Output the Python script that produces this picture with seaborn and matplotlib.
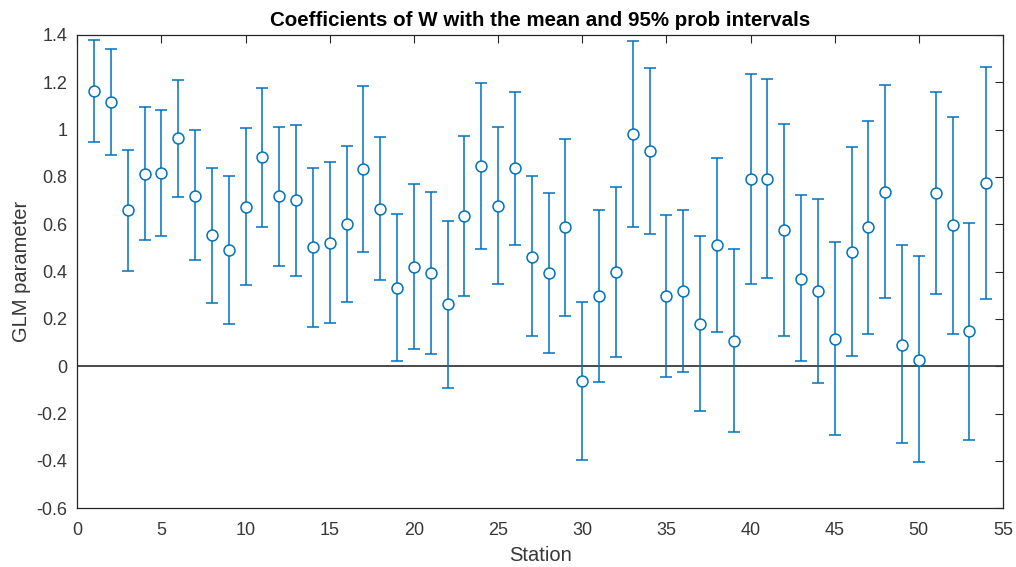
import numpy as np
import pandas as pd
import matplotlib
matplotlib.use("Agg")
import matplotlib.pyplot as plt
import seaborn as sns

# Posterior summaries of the W coefficient per station
station = list(range(1, 55))
mean = [1.165, 1.117, 0.659, 0.813, 0.817, 0.965, 0.721, 0.554, 0.492, 0.673,
        0.885, 0.720, 0.703, 0.503, 0.521, 0.601, 0.834, 0.666, 0.332, 0.421,
        0.394, 0.263, 0.637, 0.845, 0.679, 0.837, 0.463, 0.393, 0.587, -0.061,
        0.297, 0.399, 0.983, 0.911, 0.299, 0.320, 0.180, 0.511, 0.108, 0.793,
        0.790, 0.576, 0.370, 0.318, 0.115, 0.483, 0.589, 0.738, 0.092, 0.028,
        0.732, 0.597, 0.149, 0.775]
lower = [0.949, 0.892, 0.401, 0.535, 0.552, 0.715, 0.448, 0.266, 0.179, 0.342,
         0.587, 0.423, 0.383, 0.168, 0.185, 0.272, 0.483, 0.366, 0.021, 0.073,
         0.051, -0.090, 0.296, 0.494, 0.346, 0.511, 0.127, 0.056, 0.214, -0.394,
         -0.066, 0.038, 0.587, 0.559, -0.044, -0.025, -0.190, 0.144, -0.277, 0.348,
         0.372, 0.127, 0.021, -0.072, -0.289, 0.045, 0.138, 0.290, -0.324, -0.406,
         0.307, 0.138, -0.313, 0.285]
upper = [1.380, 1.341, 0.914, 1.094, 1.085, 1.211, 0.997, 0.839, 0.804, 1.007,
         1.177, 1.013, 1.020, 0.839, 0.862, 0.932, 1.183, 0.968, 0.645, 0.769,
         0.738, 0.615, 0.972, 1.196, 1.013, 1.161, 0.803, 0.732, 0.962, 0.272,
         0.662, 0.756, 1.376, 1.259, 0.639, 0.662, 0.552, 0.880, 0.494, 1.237,
         1.213, 1.024, 0.723, 0.708, 0.524, 0.927, 1.038, 1.189, 0.511, 0.465,
         1.161, 1.055, 0.607, 1.265]

df = pd.DataFrame({"Station": station, "mean": mean, "lower": lower, "upper": upper})

sns.set_theme(style="white")
plt.rcParams["font.family"] = ["Liberation Sans", "DejaVu Sans"]

blue = "#0072BD"
axcol = "#262626"
txtcol = "#383838"

fig = plt.figure(figsize=(10.16, 5.67), dpi=100)
ax = fig.add_axes([0.0761, 0.1035, 0.9111, 0.8348])

# reference line at zero
ax.axhline(0, color="#3a3a3a", lw=1.3, zorder=1)

yerr = np.vstack([df["mean"] - df["lower"], df["upper"] - df["mean"]])
ax.errorbar(df["Station"], df["mean"], yerr=yerr, fmt="none", ecolor=blue,
            elinewidth=1.1, capsize=4.3, capthick=1.1, zorder=2)
sns.scatterplot(data=df, x="Station", y="mean", ax=ax, marker="o", s=62,
                facecolor="white", edgecolor=blue, linewidth=1.1, zorder=3,
                legend=False)

ax.set_xlim(0, 55)
ax.set_ylim(-0.6, 1.4)
ax.set_xticks(np.arange(0, 56, 5))
yt = np.round(np.arange(-0.6, 1.41, 0.2), 1)
ax.set_yticks(yt)
ax.set_yticklabels(["0" if v == 0 else f"{v:g}" for v in yt])

ax.tick_params(direction="in", length=5.5, width=0.8, colors=axcol,
               labelcolor=txtcol, labelsize=13, top=True, right=True)
ax.tick_params(axis="x", pad=9.5)
ax.tick_params(axis="y", pad=7)
for s in ax.spines.values():
    s.set_color(axcol)
    s.set_linewidth(0.9)

ax.set_xlabel("Station", fontsize=14.5, color=txtcol, labelpad=5.5)
ax.set_ylabel("GLM parameter", fontsize=14.5, color=txtcol, labelpad=4)
ax.set_title("Coefficients of W with the mean and 95% prob intervals",
             fontsize=14.8, fontweight="bold", color="black", pad=6.5)

fig.savefig("out.png", dpi=100, facecolor="white")
